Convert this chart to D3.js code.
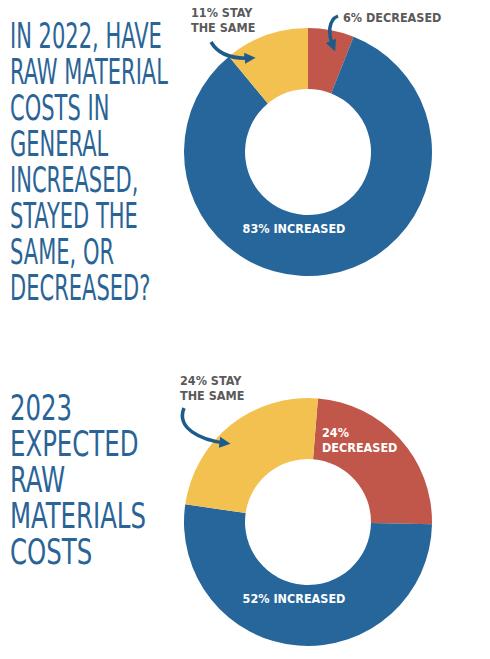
<!DOCTYPE html>
<html lang="en">
<head>
<meta charset="UTF-8">
<title></title>
<script src="https://d3js.org/d3.v7.min.js"></script>
<style>body{margin:0;background:#fff;}</style>
</head>
<body>
<script type="text/javascript">

var w = 490;
var h = 659;

var categories = ["Decreased", "Increased", "Stay the same"];
var values2022 = [6, 83, 11];
var values2023 = [24, 52, 24];
var colors = ["#c0574a", "#26669a", "#f3c150"];

var title2022 = ["IN 2022, HAVE", "RAW MATERIAL", "COSTS IN", "GENERAL", "INCREASED,", "STAYED THE", "SAME, OR", "DECREASED?"];
var title2023 = ["2023", "EXPECTED", "RAW", "MATERIALS", "COSTS"];

var svg = d3.select("body").append("svg")
    .attr("width", w)
    .attr("height", h);

svg.append("defs").append("marker")
    .attr("id", "head")
    .attr("viewBox", "0 0 10 10")
    .attr("refX", 5).attr("refY", 5)
    .attr("markerWidth", 3.2).attr("markerHeight", 3.2)
    .attr("orient", "auto")
    .append("path")
    .attr("d", "M0,0 L10,5 L0,10 z")
    .attr("fill", "#1d5b8b");

// title block squeezed horizontally so the widest line fits maxW
function title(lines, y0, maxW) {
    var g = svg.append("g");
    var t = g.selectAll("text")
        .data(lines)
        .enter().append("text")
        .attr("x", 0)
        .attr("y", function(d, i) { return y0 + i * 36; })
        .attr("font-family", "Liberation Sans Narrow, DejaVu Sans Condensed, sans-serif")
        .attr("font-size", "35px")
        .attr("fill", "#2a6496")
        .text(function(d) { return d; });
    var widest = d3.max(t.nodes(), function(n) { return n.getComputedTextLength(); });
    g.attr("transform", "translate(10,0) scale(" + (maxW / widest) + ",1)");
}
title(title2022, 48, 158);
title(title2023, 420, 136);

function donut(values, cx, cy, offset) {
    var pie = d3.pie().sort(null).startAngle(offset).endAngle(offset + 2 * Math.PI);
    var arc = d3.arc().innerRadius(63).outerRadius(124);
    svg.append("g")
        .attr("transform", "translate(" + cx + "," + cy + ")")
        .selectAll("path")
        .data(pie(values))
        .enter().append("path")
        .attr("d", arc)
        .attr("fill", function(d, i) { return colors[i]; });
}
donut(values2022, 308, 152, 0);
donut(values2023, 308, 522, 0.08);

function label(lines, x, y, color, anchor) {
    var t = svg.append("text")
        .attr("font-family", "DejaVu Sans Condensed, sans-serif")
        .attr("font-weight", "bold")
        .attr("font-size", "12.5px")
        .attr("fill", color)
        .attr("text-anchor", anchor || "start");
    lines.forEach(function(l, i) {
        t.append("tspan").attr("x", x).attr("y", y + i * 15).text(l);
    });
}
label([values2022[2] + "% STAY", "THE SAME"], 191, 17, "#5a5a5a");
label([values2022[0] + "% DECREASED"], 343, 22, "#5a5a5a");
label([values2022[1] + "% INCREASED"], 294, 233, "#fff", "middle");
label([values2023[2] + "% STAY", "THE SAME"], 180, 385, "#5a5a5a");
label([values2023[0] + "%", "DECREASED"], 322, 437, "#fff");
label([values2023[1] + "% INCREASED"], 294, 603, "#fff", "middle");

var arrows = [
    "M211,42 C218,54 232,59 250,58",
    "M338,16 C328,20 328,34 333,46",
    "M184,408 C176,428 200,440 225,443"
];
svg.selectAll(".arrow")
    .data(arrows)
    .enter().append("path")
    .attr("d", function(d) { return d; })
    .attr("fill", "none")
    .attr("stroke", "#1d5b8b")
    .attr("stroke-width", 3.5)
    .attr("marker-end", "url(#head)");

</script>
</body>
</html>
